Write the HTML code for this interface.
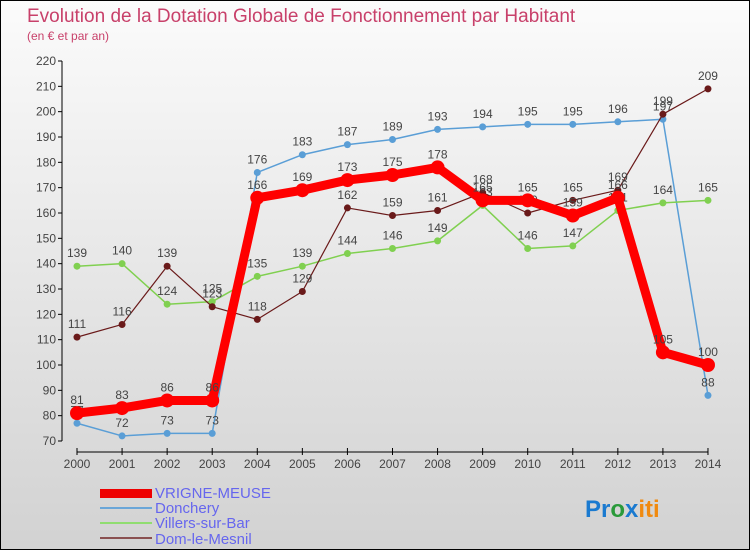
<!DOCTYPE html>
<html><head><meta charset="utf-8"><style>
body{margin:0}
#c{width:748px;height:548px;border:1px solid #000;background:linear-gradient(#fbfbfb,#d2d2d2);position:relative;font-family:"Liberation Sans",sans-serif;overflow:hidden}
</style></head><body>
<div id="c">
<svg id="s" width="748" height="548" xmlns="http://www.w3.org/2000/svg">
<text x="26" y="21" font-size="19" fill="#c8406a">Evolution de la Dotation Globale de Fonctionnement par Habitant</text>
<text x="26" y="39" font-size="12" fill="#c8406a">(en € et par an)</text>
<g id="g"></g>
<g>
<rect x="99" y="488" width="52" height="9" fill="#e00"/>
<text x="154" y="497" font-size="15" fill="#6666ee">VRIGNE-MEUSE</text>
<rect x="99" y="506" width="52" height="2" fill="#6aa6d8"/>
<text x="154" y="512" font-size="15" fill="#6666ee">Donchery</text>
<rect x="99" y="521" width="52" height="2" fill="#90dd70"/>
<text x="154" y="527" font-size="15" fill="#6666ee">Villers-sur-Bar</text>
<rect x="99" y="536" width="52" height="2" fill="#8a5050"/>
<text x="154" y="543" font-size="15" fill="#6666ee">Dom-le-Mesnil</text>
</g>
<text x="584" y="516" font-size="24" font-weight="bold"><tspan fill="#1a7ad0">Pr</tspan><tspan fill="#2a9a3a">o</tspan><tspan fill="#1a7ad0">x</tspan><tspan fill="#f08a10">iti</tspan></text>
</svg></div>
<script>
const years=[2000,2001,2002,2003,2004,2005,2006,2007,2008,2009,2010,2011,2012,2013,2014];
const vrigne=[81,83,86,86,166,169,173,175,178,165,165,159,166,105,100];
const donchery=[77,72,73,73,176,183,187,189,193,194,195,195,196,197,88];
const villers=[139,140,124,125,135,139,144,146,149,163,146,147,161,164,165];
const dom=[111,116,139,123,118,129,162,159,161,168,160,165,169,199,209];
const yTicks=[70,80,90,100,110,120,130,140,150,160,170,180,190,200,210,220];
const g=document.getElementById('g');const NS='http://www.w3.org/2000/svg';
const X=i=>76+i*45.07, Y=v=>440-(v-70)*380/150;
function el(t,a,name){const e=document.createElementNS(NS,t);for(const k in a)e.setAttribute(k,a[k]);


g.appendChild(e);return e;}
el('line',{x1:61,y1:60,x2:61,y2:440,stroke:'#000'},'y-axis');
el('line',{x1:76,y1:451,x2:707,y2:451,stroke:'#000'},'x-axis');
yTicks.forEach(v=>{el('line',{x1:57,y1:Y(v),x2:61,y2:Y(v),stroke:'#000'},'y-tick');
const t=el('text',{x:55,y:Y(v)+4,'font-size':12,fill:'#444','text-anchor':'end'},'y-tick-label');t.textContent=v;});
years.forEach((y,i)=>{el('line',{x1:X(i),y1:447,x2:X(i),y2:454,stroke:'#000'},'x-tick');
const t=el('text',{x:X(i),y:467,'font-size':12,fill:'#444','text-anchor':'middle'},'x-tick-label');t.textContent=y;});
function series(d,col,w,r,name){
el('polyline',{points:d.map((v,i)=>X(i)+','+Y(v)).join(' '),fill:'none',stroke:col,'stroke-width':w,'stroke-linejoin':'round'},name+'-line');
d.forEach((v,i)=>{el('circle',{cx:X(i),cy:Y(v),r:r,fill:col},name+'-point');
const t=el('text',{x:X(i),y:Y(v)-9,'font-size':12,fill:'#444','text-anchor':'middle'},name+'-value');t.textContent=v;});}
series(donchery,'#5a9ed6',1.5,3.5,'donchery');
series(villers,'#80d050',1.5,3.5,'villers');
series(dom,'#6a1a1a',1.2,3.5,'dom');
series(vrigne,'#f00',9,7,'vrigne');
</script></body></html>
